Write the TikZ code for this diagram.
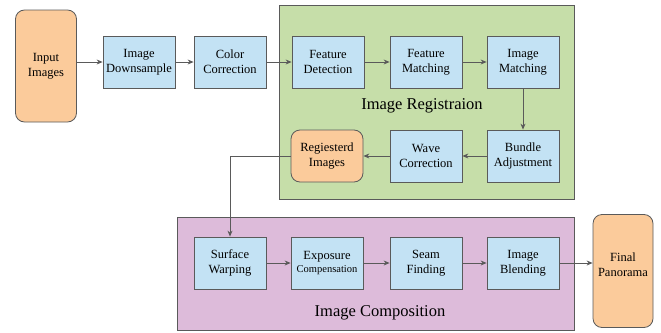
\documentclass[tikz,border=0pt]{standalone}
\usepackage{fontspec}
\setmainfont{Liberation Serif}
\usetikzlibrary{arrows.meta}

\definecolor{stepblue}{HTML}{C3E2F4}
\definecolor{ioorange}{HTML}{FBCB9B}
\definecolor{reggreen}{HTML}{C6DEA9}
\definecolor{comppink}{HTML}{DDBBDA}
\definecolor{edgegray}{HTML}{5A5A5A}

\tikzset{
  stepbox/.style={draw=edgegray,fill=stepblue,thick,minimum width=72pt,
    minimum height=52pt,align=center,font=\fontsize{12.5}{15}\selectfont,
    inner sep=1pt},
  iobox/.style={draw=edgegray,fill=ioorange,thick,rounded corners=9pt,
    minimum width=61pt,align=center,font=\fontsize{12.5}{15}\selectfont},
  group/.style={draw=edgegray,thick},
  arr/.style={draw=edgegray,thick,-{Stealth[length=6pt,width=5pt]}},
}

\begin{document}
\begin{tikzpicture}[x=1pt,y=-1pt]
  \useasboundingbox (0,0) rectangle (661,332);
  % the two stage frames
  \draw[group,fill=reggreen] (279,5) rectangle (574,199);
  \draw[group,fill=comppink] (177,217) rectangle (574,330);
  \node[font=\fontsize{16.5}{18}\selectfont] (regtitle) at (422,106)
    {Image Registraion};
  \node[font=\fontsize{16.5}{18}\selectfont] (comptitle) at (380,313)
    {Image Composition};

  % top row
  \node[iobox,minimum height=112pt] (in) at (46,66) {Input\\Images};
  \node[stepbox] (ds) at (139,62) {Image\\Downsample};
  \node[stepbox] (cc) at (230,62) {Color\\Correction};
  \node[stepbox] (fd) at (328,62) {Feature\\Detection};
  \node[stepbox] (fm) at (426,62) {Feature\\Matching};
  \node[stepbox] (im) at (523,62) {Image\\Matching};

  % registration, second row
  \node[stepbox] (ba) at (523,156) {Bundle\\Adjustment};
  \node[stepbox] (wc) at (426,156) {Wave\\Correction};
  \node[iobox,minimum width=72pt,minimum height=52pt] (reg) at (327,156)
    {Regiesterd\\Images};

  % composition row
  \node[stepbox] (sw) at (230,263) {Surface\\Warping};
  \node[stepbox] (ec) at (327,263)
    {Exposure\\[-2pt]{\fontsize{10.5}{12}\selectfont Compensation}};
  \node[stepbox] (sf) at (426,263) {Seam\\Finding};
  \node[stepbox] (ib) at (523,263) {Image\\Blending};
  \node[iobox,minimum width=60pt,minimum height=113pt] (fp) at (623,271)
    {Final\\Panorama\\[-2pt]};

  \draw[arr] (in.east |- ds.west) -- (ds.west);
  \draw[arr] (ds) -- (cc);
  \draw[arr] (cc) -- (fd);
  \draw[arr] (fd) -- (fm);
  \draw[arr] (fm) -- (im);
  \draw[arr] (im) -- (ba);
  \draw[arr] (ba) -- (wc);
  \draw[arr] (wc) -- (reg);
  \draw[arr] (reg.west) -| (sw.north);
  \draw[arr] (sw) -- (ec);
  \draw[arr] (ec) -- (sf);
  \draw[arr] (sf) -- (ib);
  \draw[arr] (ib.east) -- (fp.west |- ib.east);
\end{tikzpicture}
\end{document}
